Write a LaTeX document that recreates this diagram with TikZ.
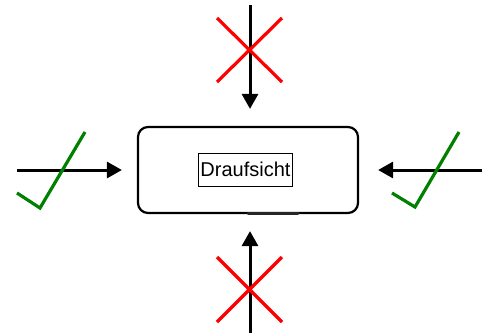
\documentclass[tikz,border=0pt]{standalone}
\usepackage{fontspec}
\setmainfont{Liberation Sans}
\usetikzlibrary{arrows.meta}
\definecolor{okgreen}{RGB}{0,128,0}
\tikzset{
  view/.style={draw=black, line width=2.2pt, rounded corners=10pt, minimum width=220pt, minimum height=86pt, inner sep=0pt},
  caption/.style={draw=black, line width=0.6pt, font=\fontsize{20}{24}\selectfont, inner sep=2pt, minimum height=33pt},
  dirarrow/.style={draw=black, line width=3pt, -{Triangle[length=15pt, width=16pt]}},
  nope/.style={draw=red, line width=3.2pt},
  yes/.style={draw=okgreen, line width=3.2pt},
}
\begin{document}
\begin{tikzpicture}[x=1pt, y=-1pt]
\useasboundingbox (0,0) rectangle (492,335);
% view box with its caption
\node[view] (box) at (248,170) {};
\node[caption] (lbl) at (245.5,169.5) {Draufsicht};
\draw[line width=3pt, black!85, line cap=round] (248,213.5) -- (298,213.5);
% viewing directions
\coordinate (ntop) at (250,5);
\coordinate (nbot) at (250,333);
\coordinate (nleft) at (17,170);
\coordinate (nright) at (482,170);
\draw[dirarrow, shorten >=17pt] (ntop) -- (ntop |- box.north);
\draw[dirarrow, shorten >=17pt] (nbot) -- (nbot |- box.south);
\draw[dirarrow, shorten >=15pt] (nleft) -- (nleft -| box.west);
\draw[dirarrow, shorten >=19pt] (nright) -- (nright -| box.east);
% rejected directions
\draw[nope] (217,18) -- (282,82) (282,18) -- (217,82);
\draw[nope] (217,257) -- (282,322) (282,257) -- (217,322);
% accepted directions
\draw[yes, line join=miter] (17,193) -- (40,208) -- (85,132);
\draw[yes, line join=miter] (392,193) -- (415,207) -- (459,132);
\end{tikzpicture}
\end{document}
